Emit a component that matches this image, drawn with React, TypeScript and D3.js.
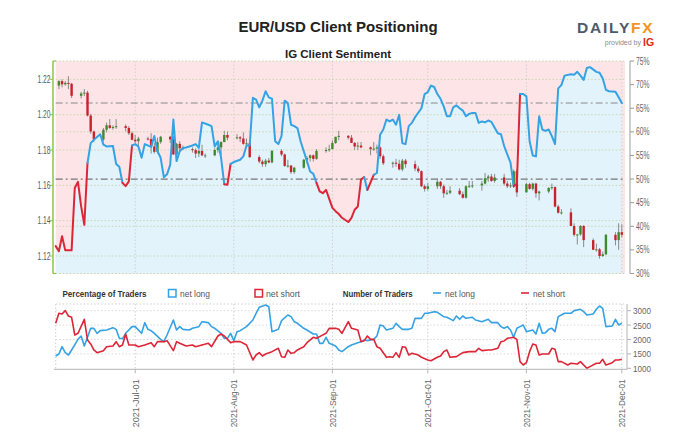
import React from "react";
import * as d3 from "d3";

// ---------------- data ----------------
const candleDates = [
  "06-07","06-08","06-09","06-10","06-11","06-14","06-15","06-16","06-17","06-18","06-21","06-22","06-23","06-24","06-25","06-28","06-29","06-30",
  "07-01","07-02","07-05","07-06","07-07","07-08","07-09","07-12","07-13","07-14","07-15","07-16","07-19","07-20","07-21","07-22","07-23","07-26","07-27","07-28","07-29","07-30",
  "08-02","08-03","08-04","08-05","08-06","08-09","08-10","08-11","08-12","08-13","08-16","08-17","08-18","08-19","08-20","08-23","08-24","08-25","08-26","08-27","08-30","08-31",
  "09-01","09-02","09-03","09-06","09-07","09-08","09-09","09-10","09-13","09-14","09-15","09-16","09-17","09-20","09-21","09-22","09-23","09-24","09-27","09-28","09-29","09-30",
  "10-01","10-04","10-05","10-06","10-07","10-08","10-11","10-12","10-13","10-14","10-15","10-18","10-19","10-20","10-21","10-22","10-25","10-26","10-27","10-28","10-29",
  "11-01","11-02","11-03","11-04","11-05","11-08","11-09","11-10","11-11","11-12","11-15","11-16","11-17","11-18","11-19","11-22","11-23","11-24","11-25","11-26","11-29","11-30",
  "12-01",
];
const opens = [
  1.2165,1.2190,1.2172,1.2180,1.2175,1.2107,1.2120,1.2125,1.1995,1.1905,1.1860,1.1915,1.1940,1.1925,1.1930,1.1935,1.1925,1.1895,
  1.1858,1.1850,1.1865,1.1862,1.1820,1.1790,1.1845,1.1875,1.1860,1.1775,1.1835,1.1810,1.1805,1.1800,1.1780,1.1795,1.1770,1.1770,1.1800,1.1815,1.1845,1.1885,
  1.1870,1.1872,1.1865,1.1835,1.1838,1.1760,1.1735,1.1720,1.1740,1.1730,1.1795,1.1775,1.1710,1.1712,1.1675,1.1700,1.1745,1.1755,1.1770,1.1750,1.1795,1.1800,
  1.1805,1.1840,1.1875,1.1880,1.1870,1.1840,1.1820,1.1825,1.1815,1.1805,1.1808,1.1815,1.1765,1.1725,1.1728,1.1722,1.1690,1.1740,1.1720,1.1695,1.1680,1.1595,
  1.1580,1.1595,1.1620,1.1595,1.1555,1.1558,1.1570,1.1550,1.1530,1.1595,1.1598,1.1600,1.1610,1.1640,1.1650,1.1625,1.1645,1.1610,1.1595,1.1600,1.1680,
  1.1560,1.1607,1.1580,1.1610,1.1555,1.1565,1.1585,1.1590,1.1480,1.1445,1.1447,1.1370,1.1320,1.1322,1.1370,1.1290,1.1235,1.1238,1.1200,1.1210,1.1320,1.1290,
  1.1335,
];
const highs = [
  1.2195,1.2200,1.2190,1.2218,1.2180,1.2130,1.2145,1.2135,1.2005,1.1910,1.1925,1.1955,1.1975,1.1940,1.1975,1.1945,1.1935,1.1905,
  1.1885,1.1875,1.1875,1.1895,1.1840,1.1870,1.1880,1.1880,1.1880,1.1840,1.1850,1.1825,1.1815,1.1810,1.1805,1.1830,1.1780,1.1810,1.1840,1.1850,1.1909,1.1905,
  1.1890,1.1880,1.1900,1.1865,1.1845,1.1770,1.1745,1.1750,1.1755,1.1800,1.1805,1.1780,1.1745,1.1715,1.1705,1.1750,1.1765,1.1775,1.1775,1.1805,1.1815,1.1830,
  1.1855,1.1875,1.1909,1.1885,1.1885,1.1845,1.1845,1.1845,1.1820,1.1845,1.1830,1.1820,1.1775,1.1735,1.1750,1.1745,1.1750,1.1750,1.1740,1.1710,1.1685,1.1605,
  1.1615,1.1640,1.1625,1.1605,1.1575,1.1595,1.1585,1.1565,1.1600,1.1625,1.1625,1.1625,1.1670,1.1660,1.1665,1.1665,1.1665,1.1625,1.1615,1.1690,1.1690,
  1.1615,1.1615,1.1615,1.1615,1.1570,1.1590,1.1610,1.1595,1.1490,1.1465,1.1470,1.1385,1.1325,1.1375,1.1375,1.1300,1.1270,1.1245,1.1225,1.1325,1.1335,1.1385,
  1.1380,
];
const lows = [
  1.2145,1.2155,1.2165,1.2145,1.2095,1.2092,1.2105,1.1990,1.1892,1.1845,1.1850,1.1900,1.1920,1.1915,1.1920,1.1905,1.1885,1.1855,
  1.1840,1.1805,1.1855,1.1780,1.1780,1.1780,1.1835,1.1840,1.1772,1.1770,1.1795,1.1800,1.1785,1.1755,1.1760,1.1765,1.1755,1.1765,1.1785,1.1770,1.1845,1.1855,
  1.1860,1.1845,1.1830,1.1820,1.1755,1.1725,1.1705,1.1705,1.1725,1.1725,1.1765,1.1705,1.1700,1.1665,1.1665,1.1695,1.1725,1.1735,1.1735,1.1745,1.1785,1.1790,
  1.1805,1.1835,1.1855,1.1860,1.1840,1.1800,1.1800,1.1810,1.1770,1.1795,1.1780,1.1750,1.1715,1.1700,1.1705,1.1685,1.1680,1.1700,1.1680,1.1670,1.1590,1.1565,
  1.1570,1.1580,1.1580,1.1530,1.1545,1.1550,1.1545,1.1525,1.1525,1.1585,1.1585,1.1570,1.1605,1.1620,1.1620,1.1615,1.1600,1.1585,1.1585,1.1585,1.1535,
  1.1560,1.1575,1.1570,1.1530,1.1515,1.1555,1.1575,1.1475,1.1440,1.1435,1.1370,1.1310,1.1265,1.1315,1.1250,1.1235,1.1225,1.1185,1.1195,1.1205,1.1260,1.1235,
  1.1305,
];
const closes = [
  1.2190,1.2172,1.2180,1.2175,1.2107,1.2120,1.2125,1.1995,1.1905,1.1860,1.1915,1.1940,1.1925,1.1930,1.1935,1.1925,1.1895,1.1858,
  1.1850,1.1865,1.1862,1.1820,1.1790,1.1845,1.1875,1.1860,1.1775,1.1835,1.1810,1.1805,1.1800,1.1780,1.1795,1.1770,1.1770,1.1800,1.1815,1.1845,1.1885,1.1870,
  1.1872,1.1865,1.1835,1.1838,1.1760,1.1735,1.1720,1.1740,1.1730,1.1795,1.1775,1.1710,1.1712,1.1675,1.1700,1.1745,1.1755,1.1770,1.1750,1.1795,1.1800,1.1805,
  1.1840,1.1875,1.1880,1.1870,1.1840,1.1820,1.1825,1.1815,1.1805,1.1808,1.1815,1.1765,1.1725,1.1728,1.1722,1.1690,1.1740,1.1720,1.1695,1.1680,1.1595,1.1580,
  1.1595,1.1620,1.1595,1.1555,1.1558,1.1570,1.1550,1.1530,1.1595,1.1598,1.1600,1.1610,1.1640,1.1650,1.1625,1.1645,1.1610,1.1595,1.1600,1.1680,1.1560,
  1.1607,1.1580,1.1610,1.1555,1.1565,1.1585,1.1590,1.1480,1.1445,1.1447,1.1370,1.1320,1.1322,1.1370,1.1290,1.1235,1.1238,1.1200,1.1210,1.1320,1.1290,1.1335,
  1.1320,
];

// IG client sentiment: % of traders net long
const sentDates = [
  "06-06","06-07","06-08","06-09","06-11","06-12","06-13","06-14","06-15","06-16","06-17","06-18","06-20","06-21","06-22","06-24","06-25","06-26","06-27","06-28","06-29","06-30",
  "07-01","07-02","07-03","07-04","07-06","07-07","07-08","07-09","07-10","07-11","07-12","07-13","07-14","07-15","07-16","07-17","07-19","07-20","07-21","07-22","07-24","07-25","07-26","07-27","07-28","07-29","07-30","07-31",
  "08-01","08-03","08-04","08-05","08-06","08-07","08-08","08-09","08-10","08-11","08-12","08-13","08-14","08-15","08-16","08-17","08-18","08-19","08-20","08-21","08-22","08-23","08-24","08-25","08-26","08-27","08-28","08-29","08-30",
  "09-01","09-02","09-03","09-04","09-06","09-07","09-08","09-09","09-10","09-11","09-12","09-14","09-15","09-16","09-17","09-18","09-19","09-20","09-21","09-22","09-23","09-24","09-25","09-26","09-27","09-29","09-30",
  "10-01","10-02","10-03","10-04","10-05","10-06","10-07","10-08","10-09","10-10","10-11","10-12","10-13","10-14","10-15","10-16","10-17","10-18","10-19","10-20","10-21","10-23","10-24","10-25","10-26","10-27","10-28","10-29","10-30","10-31",
  "11-01","11-02","11-03","11-04","11-05","11-06","11-07","11-08","11-09","11-10","11-11","11-12","11-13","11-15","11-16","11-17","11-18","11-19","11-20","11-21","11-23","11-24","11-25","11-26","11-27","11-29","11-30",
  "12-01",
];
const netLongPct = [
  35.8,34.7,37.9,34.9,34.9,48.1,49.4,44.2,40.3,53.4,57.6,58.3,59.5,57.3,56.9,57.0,53.2,52.6,49.2,48.5,49.5,57.1,
  57.4,56.9,54.5,57.4,56.8,59.1,55.9,54.5,50.4,51.0,53.0,62.6,53.8,55.9,56.6,56.7,57.1,57.4,56.6,62.0,61.5,61.2,56.9,58.0,54.5,48.9,48.8,53.2,
  53.6,54.1,54.8,57.1,57.1,67.2,66.8,65.2,66.6,68.6,67.3,67.0,58.0,57.4,59.1,66.6,66.1,61.5,61.2,60.8,58.0,55.9,53.8,51.6,51.1,49.2,47.4,47.0,47.7,
  43.9,43.2,42.6,41.8,40.9,41.8,43.5,44.2,49.9,50.4,47.7,50.9,51.3,59.4,60.5,62.6,62.2,62.6,61.5,63.6,57.6,57.4,61.2,61.9,63.1,65.0,68.0,
  68.4,69.8,69.5,68.0,67.0,65.4,63.3,63.3,65.2,65.6,65.0,64.5,63.3,63.8,64.0,64.0,61.9,62.2,62.0,62.4,62.1,59.7,59.5,57.0,55.2,53.5,48.5,49.0,68.0,68.0,
  67.5,58.0,55.0,54.8,63.3,60.5,60.2,60.5,59.1,57.4,69.2,69.9,71.9,72.2,72.1,72.7,71.9,71.0,73.5,73.7,72.7,72.5,71.3,68.9,68.6,68.5,67.3,
  66.1,
];

// Number of traders
const longCountDates = [
  "06-06","06-07","06-08","06-09","06-10","06-11","06-13","06-14","06-15","06-16","06-17","06-18","06-19","06-20","06-22","06-24","06-25","06-26","06-27","06-28","06-30",
  "07-01","07-03","07-04","07-05","07-06","07-07","07-09","07-10","07-11","07-13","07-14","07-15","07-16","07-18","07-19","07-21","07-22","07-24","07-25","07-26","07-28","07-29","07-30","07-31",
  "08-01","08-02","08-03","08-05","08-07","08-08","08-09","08-11","08-12","08-13","08-15","08-16","08-18","08-19","08-20","08-21","08-23","08-24","08-26","08-27","08-28","08-29","08-30","08-31",
  "09-02","09-03","09-04","09-06","09-07","09-09","09-10","09-11","09-12","09-14","09-15","09-16","09-17","09-18","09-20","09-21","09-22","09-23","09-25","09-26","09-27","09-29","09-30",
  "10-01","10-03","10-04","10-06","10-07","10-09","10-10","10-11","10-12","10-13","10-15","10-16","10-18","10-20","10-21","10-23","10-24","10-25","10-26","10-27","10-28","10-29","10-30","10-31",
  "11-01","11-03","11-04","11-05","11-06","11-07","11-08","11-09","11-10","11-11","11-13","11-15","11-16","11-18","11-19","11-20","11-22","11-23","11-24","11-25","11-26","11-28","11-29","11-30",
  "12-01",
];
const netLongCount = [
  1427,1497,1751,1543,1462,1636,2006,2122,1775,2076,2388,2388,2215,2307,2330,2411,2353,2041,2030,2215,2446,
  2446,2215,2585,2353,2307,2215,2006,1925,2156,2677,2330,2446,2353,2330,2388,2446,2619,2585,2446,2388,2215,2041,2041,2215,
  1960,2272,2307,2446,2677,2909,3117,3198,3140,2272,2353,2654,2851,2793,2619,2562,2388,2330,2191,2191,1867,1867,2076,1867,
  1775,1636,1578,1751,1809,1890,1925,1983,1960,2006,2122,2504,2469,2330,2388,2562,2446,2353,2353,2388,2735,2735,2909,
  2909,2967,2944,2793,2770,2654,2816,2701,2816,2735,2770,2677,2619,2701,2585,2585,2446,2388,2446,2330,2076,2388,2446,2504,
  2272,2330,2191,2562,2215,2237,2353,2388,2272,2793,2909,2909,3002,3048,2967,2851,2886,3048,3163,3082,2446,2469,2700,2504,
  2562,
];
const shortCountDates = [
  "06-06","06-07","06-08","06-09","06-10","06-11","06-12","06-13","06-15","06-16","06-17","06-18","06-19","06-21","06-22","06-24","06-25","06-26","06-27","06-28","06-29",
  "07-01","07-02","07-04","07-06","07-07","07-08","07-10","07-11","07-13","07-14","07-15","07-17","07-19","07-20","07-22","07-24","07-25","07-27","07-28","07-29","07-31",
  "08-01","08-03","08-04","08-05","08-07","08-08","08-09","08-10","08-11","08-13","08-15","08-16","08-17","08-18","08-19","08-20","08-21","08-23","08-24","08-26","08-27","08-28","08-30","08-31",
  "09-02","09-03","09-04","09-06","09-07","09-09","09-10","09-11","09-12","09-13","09-14","09-15","09-16","09-18","09-19","09-20","09-21","09-22","09-23","09-24","09-25","09-26","09-28","09-29",
  "10-01","10-02","10-04","10-05","10-06","10-07","10-08","10-10","10-12","10-14","10-16","10-17","10-18","10-20","10-21","10-23","10-24","10-25","10-26","10-28","10-29","10-30","10-31",
  "11-01","11-02","11-03","11-04","11-05","11-06","11-08","11-09","11-10","11-11","11-12","11-14","11-15","11-17","11-18","11-20","11-21","11-23","11-24","11-25","11-26","11-28","11-29","11-30",
  "12-01",
];
const netShortCount = [
  2562,2909,2886,3002,2816,2770,2156,2215,2701,1983,1844,1636,1543,1613,1751,1775,1925,1751,1809,2191,1809,
  1809,1751,1809,1890,1751,1925,1925,1960,1613,1925,1867,1775,1809,1751,1809,1867,1751,2122,2191,2122,1890,
  1925,1925,1867,1809,1289,1462,1543,1427,1497,1578,1694,1404,1381,1636,1520,1543,1636,1751,1890,2076,2041,2099,2215,2388,
  2388,2353,2215,2619,2388,2330,1925,1960,2122,2006,2006,1751,1694,1381,1404,1381,1543,1381,1751,1728,1462,1520,1462,1381,
  1289,1265,1381,1427,1578,1636,1381,1404,1543,1578,1578,1694,1613,1636,1636,1694,1925,1948,2041,2076,2006,1231,1115,
  1196,1578,1844,1809,1462,1497,1497,1694,1659,1231,1231,1115,1173,1150,1231,1000,1058,1173,1173,1312,1115,1196,1289,1289,
  1312,
];

// axes
const priceTicks = [1.12, 1.14, 1.16, 1.18, 1.2, 1.22];
const pctTicks = [30, 35, 40, 45, 50, 55, 60, 65, 70, 75];
const pctGrid = [40, 60];
const countTicks = [1000, 1500, 2000, 2500, 3000];
const monthTicks = ["07-01", "08-01", "09-01", "10-01", "11-01", "12-01"];
const monthLabels = ["2021-Jul-01", "2021-Aug-01", "2021-Sep-01", "2021-Oct-01", "2021-Nov-01", "2021-Dec-01"];
const xStart = "06-06";
const xEnd = "12-02";
const neutralPct = 50;

// ---------------- chart ----------------
const parse = (s: string) => new Date(`2021-${s}T00:00:00Z`);

const BLUE = "#35a2e4";
const RED = "#dc2637";
const PINK_BG = "#fde4e7";
const BLUE_BG = "#e3f3fc";
const GREEN_AX = "#8cc63f";
const GRID = "#c9d6ad";
const VGRID = "#cfcfcf";
const SANS = "'Liberation Sans',Arial,Helvetica,sans-serif";

// condensed-looking text: squeeze glyphs to a given width
function NText(props: any) {
  const { w, children, ...rest } = props;
  return (
    <text textLength={w} lengthAdjust="spacingAndGlyphs" {...rest}>
      {children}
    </text>
  );
}

export default function App() {
  const W = 679, H = 437;
  const L = 55.7, R = 625;
  const uTop = 61, uBot = 273.5;
  const lTop = 304, lBot = 369.3;
  const axR = 630, axR2 = 627;

  const x = d3.scaleUtc().domain([parse(xStart), parse(xEnd)]).range([L, R]);
  const yP = d3.scaleLinear().domain([1.1101, 1.2304]).range([uBot, uTop]);
  const yS = d3.scaleLinear().domain([30, 75]).range([uBot, uTop]);
  const yC = d3.scaleLinear().domain([1000, 3000]).range([368.3, 310.7]);

  const sent = sentDates.map((d, i) => ({ d: parse(d), v: netLongPct[i] }));
  const area = d3.area<{ d: Date; v: number }>().x((p) => x(p.d)).y0(uBot).y1((p) => yS(p.v));
  const line = d3.line<{ d: Date; v: number }>().x((p) => x(p.d)).y((p) => yS(p.v));

  // colored runs of the sentiment line (red while below 50%)
  const runs: { color: string; pts: { d: Date; v: number }[] }[] = [];
  for (let i = 0; i < sent.length - 1; i++) {
    const c = sent[i].v < neutralPct ? RED : BLUE;
    const last = runs[runs.length - 1];
    if (last && last.color === c) last.pts.push(sent[i + 1]);
    else runs.push({ color: c, pts: [sent[i], sent[i + 1]] });
  }

  const longC = longCountDates.map((d, i) => ({ d: parse(d), v: netLongCount[i] }));
  const shortC = shortCountDates.map((d, i) => ({ d: parse(d), v: netShortCount[i] }));
  const cLine = d3.line<{ d: Date; v: number }>().x((p) => x(p.d)).y((p) => yC(p.v));

  const currentPct = netLongPct[netLongPct.length - 1];

  return (
    <svg width={W} height={H} style={{ position: "absolute", left: 0, top: 0, background: "#fff" }} fontFamily={SANS}>
      {/* titles */}
      <text x={338} y={32} textAnchor="middle" fontSize={15} fontWeight="bold" fill="#222">EUR/USD Client Positioning</text>
      <text x={338} y={57.5} textAnchor="middle" fontSize={11.5} fontWeight="bold" fill="#222">IG Client Sentiment</text>
      {/* logo */}
      <text x={577} y={33} fontSize={15.5} fontWeight="bold" letterSpacing={1.8} fill="#4f5a68">
        DAILY<tspan fill="#f39420">FX</tspan>
      </text>
      <text x={641} y={45} textAnchor="end" fontSize={7} fill="#8a8a8a">provided by</text>
      <text x={643} y={46} fontSize={10.5} fontWeight="bold" fill="#e0261c">IG</text>

      {/* ---------- upper panel ---------- */}
      <rect x={L} y={uTop} width={R - L} height={uBot - uTop} fill={PINK_BG} />
      <path d={area(sent) || ""} fill={BLUE_BG} />
      {priceTicks.map((t) => (
        <line key={"pg" + t} x1={L} x2={R} y1={yP(t)} y2={yP(t)} stroke={GRID} strokeDasharray="1.5,2" />
      ))}
      {pctGrid.map((t) => (
        <line key={"sg" + t} x1={L} x2={R} y1={yS(t)} y2={yS(t)} stroke={GRID} strokeDasharray="1.5,2" />
      ))}
      <line x1={L} x2={R} y1={uTop} y2={uTop} stroke={GRID} strokeDasharray="1.5,2" />
      <line x1={L} x2={R} y1={uBot} y2={uBot} stroke={GRID} strokeDasharray="1.5,2" />
      {monthTicks.map((m) => (
        <line key={"vg" + m} x1={x(parse(m))} x2={x(parse(m))} y1={uTop} y2={uBot} stroke={VGRID} strokeDasharray="1.5,2" />
      ))}
      {/* reference lines */}
      <line x1={L} x2={R} y1={yS(currentPct)} y2={yS(currentPct)} stroke="#8a8a8a" strokeWidth={1} strokeDasharray="7,3,2,3" />
      <line x1={L} x2={R} y1={yS(neutralPct)} y2={yS(neutralPct)} stroke="#777" strokeWidth={1.2} strokeDasharray="7,3,2,3" />

      {/* candles */}
      {candleDates.map((d, i) => {
        const cx = x(parse(d));
        const o = opens[i], c = closes[i];
        const top = yP(Math.max(o, c));
        const bh = Math.max(1, yP(Math.min(o, c)) - top);
        const col = c > o ? "#3f8a2c" : c < o ? "#c8232c" : "#777";
        return (
          <g key={"c" + d}>
            <line x1={cx} x2={cx} y1={yP(highs[i])} y2={yP(lows[i])} stroke="#8a8a8a" strokeWidth={1} />
            <rect x={cx - 1.2} y={top} width={2.4} height={bh} fill={col} />
          </g>
        );
      })}

      {/* sentiment line */}
      {runs.map((r, i) => (
        <path key={"run" + i} d={line(r.pts) || ""} fill="none" stroke={r.color} strokeWidth={2} strokeLinejoin="round" strokeLinecap="round" />
      ))}

      {/* left axis (price) */}
      <line x1={53} x2={53} y1={uTop} y2={uBot} stroke={GREEN_AX} strokeWidth={1.5} />
      <line x1={53} x2={56} y1={uTop} y2={uTop} stroke={GREEN_AX} strokeWidth={1.2} />
      <line x1={53} x2={56} y1={uBot} y2={uBot} stroke={GREEN_AX} strokeWidth={1.2} />
      {priceTicks.map((t) => (
        <g key={"pt" + t}>
          <line x1={50} x2={53} y1={yP(t)} y2={yP(t)} stroke={GREEN_AX} />
          <NText x={37.5} y={yP(t) + 3.5} w={13} fontSize={10} fill="#5a5a5a">{t.toFixed(2)}</NText>
        </g>
      ))}

      {/* right axis (%) */}
      <line x1={axR} x2={axR} y1={yS(75)} y2={yS(30)} stroke="#9a9a9a" />
      {pctTicks.map((t) => (
        <g key={"st" + t}>
          <line x1={axR} x2={axR + 4} y1={yS(t)} y2={yS(t)} stroke="#9a9a9a" />
          <NText x={axR + 6} y={yS(t) + 3.6} w={13.5} fontSize={10} fill="#666">{t + "%"}</NText>
        </g>
      ))}

      {/* ---------- legend row ---------- */}
      <g fontSize={9.5}>
        <NText x={62.5} y={296.5} w={84} fontWeight="bold" fill="#333">Percentage of Traders</NText>
        <rect x={168.5} y={289.5} width={7.5} height={7.5} fill="#fff" stroke={BLUE} strokeWidth={1.5} />
        <NText x={180} y={296.5} w={30} fill="#555">net long</NText>
        <rect x={255} y={289.5} width={7.5} height={7.5} fill="#fff" stroke={RED} strokeWidth={1.5} />
        <NText x={266} y={296.5} w={34} fill="#555">net short</NText>
        <NText x={342.7} y={296.5} w={70} fontWeight="bold" fill="#333">Number of Traders</NText>
        <line x1={433} x2={441} y1={293} y2={293} stroke={BLUE} strokeWidth={1.6} />
        <NText x={445} y={296.5} w={30} fill="#555">net long</NText>
        <line x1={521} x2={529} y1={293} y2={293} stroke={RED} strokeWidth={1.6} />
        <NText x={533} y={296.5} w={32} fill="#555">net short</NText>
      </g>

      {/* ---------- lower panel ---------- */}
      <line x1={L} x2={R} y1={lTop} y2={lTop} stroke="#cfcfcf" strokeDasharray="1.5,2" />
      <line x1={L} x2={L} y1={lTop} y2={lBot} stroke="#cfcfcf" strokeDasharray="1.5,2" />
      {countTicks.slice(1).map((t) => (
        <line key={"cg" + t} x1={L} x2={R} y1={yC(t)} y2={yC(t)} stroke="#d9d9d9" strokeDasharray="1.5,2" />
      ))}
      {monthTicks.map((m) => (
        <line key={"lvg" + m} x1={x(parse(m))} x2={x(parse(m))} y1={lTop} y2={lBot} stroke={VGRID} strokeDasharray="1.5,2" />
      ))}
      <path d={cLine(longC) || ""} fill="none" stroke={BLUE} strokeWidth={1.6} strokeLinejoin="round" />
      <path d={cLine(shortC) || ""} fill="none" stroke={RED} strokeWidth={1.6} strokeLinejoin="round" />

      <line x1={L - 2} x2={axR2} y1={lBot} y2={lBot} stroke="#b5b5b5" />
      <line x1={axR2} x2={axR2} y1={lTop} y2={lBot} stroke="#b5b5b5" />
      {countTicks.map((t) => (
        <g key={"ct" + t}>
          <line x1={axR2} x2={axR2 + 4} y1={yC(t)} y2={yC(t)} stroke="#b5b5b5" />
          <NText x={axR2 + 6} y={yC(t) + 3.4} w={18} fontSize={9.5} fill="#666">{String(t)}</NText>
        </g>
      ))}

      {/* x axis */}
      {monthTicks.map((m, i) => {
        const mx = x(parse(m));
        return (
          <g key={"xt" + m}>
            <line x1={mx} x2={mx} y1={lBot} y2={lBot + 4} stroke="#b5b5b5" />
            <NText transform={`translate(${mx + 3.3},${lBot + 10}) rotate(-90)`} textAnchor="end" w={48} fontSize={9.5} fill="#666">
              {monthLabels[i]}
            </NText>
          </g>
        );
      })}
    </svg>
  );
}
